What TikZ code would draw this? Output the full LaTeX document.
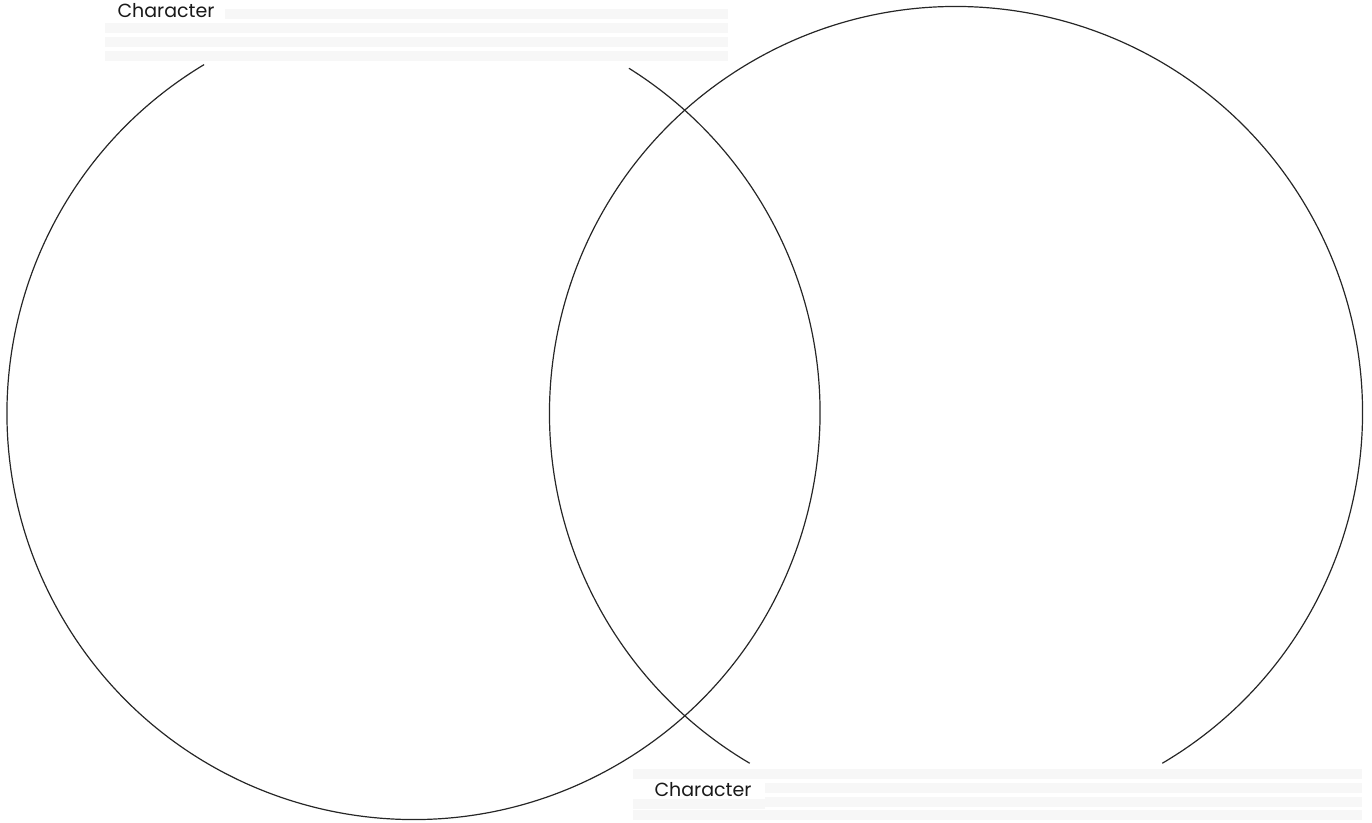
\documentclass[tikz,border=0pt]{standalone}
\usepackage{fontspec}
\newfontfamily\labelfont{Poppins}
\begin{document}
\begin{tikzpicture}[x=1pt,y=-1pt,
  venn/.style={line width=1.2pt,draw=black!85},
  faint/.style={fill=black!3,draw=none},
  lbl/.style={font=\labelfont\fontsize{19}{22}\selectfont,inner sep=0pt,text=black!90}]
\useasboundingbox (0,0) rectangle (1372,822);
% faint text blocks
\foreach \yy in {14,28,42,56}{
  \fill[faint] (225,\yy-5) rectangle (728,\yy+5);
}
\foreach \yy in {28,42,56}{
  \fill[faint] (105,\yy-5) rectangle (225,\yy+5);
}
\foreach \yy in {774,788,802,815}{
  \fill[faint] (765,\yy-5) rectangle (1362,\yy+5);
}
\foreach \yy in {774,804,815}{
  \fill[faint] (633,\yy-5) rectangle (765,\yy+5);
}
% circles
\coordinate (cl) at (413.5,413);
\coordinate (cr) at (956,413);
\draw[venn] (cl) ++(-121:406.5) arc[start angle=-121,end angle=-418,radius=406.5];
\draw[venn] (cr) ++(-300.5:406.5) arc[start angle=-300.5,end angle=-599.5,radius=406.5];
% labels
\node[lbl] (t1) at (166,11) {Character};
\node[lbl] (t2) at (703,790) {Character};
\end{tikzpicture}
\end{document}
